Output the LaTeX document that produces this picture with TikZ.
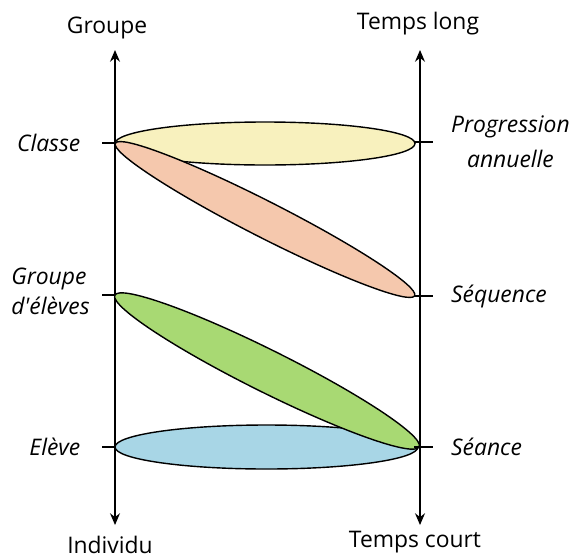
\documentclass[tikz,border=0pt]{standalone}
\usepackage{fontspec}
\setmainfont{Open Sans}[Ligatures=TeXOff]
\usetikzlibrary{arrows.meta,positioning,calc}
\definecolor{paleyellow}{HTML}{F8F1BE}
\definecolor{salmon}{HTML}{F5C8AD}
\definecolor{leafgreen}{HTML}{A8D973}
\definecolor{skyblue}{HTML}{A8D6E6}

\begin{document}
\begin{tikzpicture}[x=0.03cm, y=-0.03cm,
    axis/.style={line width=1.2pt, {Stealth[length=10pt,width=8.5pt]}-{Stealth[length=10pt,width=8.5pt]}},
    tick/.style={line width=1.1pt},
    blob/.style={draw=black, line width=1.2pt},
    lab/.style={font=\fontsize{19.5}{30}\selectfont, align=center},
    ilab/.style={font=\fontsize{19.5}{30}\selectfont\itshape, align=center}]
  \useasboundingbox (0,0) rectangle (570,558);
  % axes
  \coordinate (gtop) at (115,50);
  \coordinate (gbot) at (115,525);
  \coordinate (ttop) at (420,50);
  \coordinate (tbot) at (420,525);
  \draw[axis] (gtop) -- (gbot);
  \draw[axis] (ttop) -- (tbot);
  \node[lab] (groupe) at (107,28) {Groupe};
  \node[lab] (individu) at (110,545) {Individu};
  \node[lab] (tlong) at (418,24) {Temps long};
  \node[lab] (tcourt) at (415,542) {Temps court};
  % ellipses
  \draw[blob, fill=paleyellow] (265,143.5) ellipse [x radius=150, y radius=21.5];
  \draw[blob, fill=salmon, rotate around={-27:(265,219.5)}] (265,219.5) ellipse [x radius=168, y radius=18];
  \draw[blob, fill=skyblue] (266.5,447) ellipse [x radius=151.5, y radius=22];
  \draw[blob, fill=leafgreen, rotate around={-26.5:(267,371)}] (267,371) ellipse [x radius=170, y radius=21];
  % ticks
  \foreach \y/\n in {143/classe, 295/gel, 447/eleve}
    \draw[tick] (102,\y) coordinate (\n) -- (115,\y);
  \foreach \y/\n in {142/prog, 296/seq, 447/seance}
    \draw[tick] (414,\y) -- (433,\y) coordinate (\n);
  \node[ilab, left=15pt of classe] (lclasse) {Classe};
  \node[ilab, font=\fontsize{19.5}{25.5}\selectfont\itshape, align=left,
        left=7pt of gel, yshift=3pt] (lgel) {Groupe\\d'élèves};
  \node[ilab, left=15pt of eleve] (leleve) {Elève};
  \node[ilab, right=12pt of prog] (lprog) {Progression\\annuelle};
  \node[ilab, right=12pt of seq] (lseq) {Séquence};
  \node[ilab, right=12pt of seance] (lseance) {Séance};
\end{tikzpicture}
\end{document}
